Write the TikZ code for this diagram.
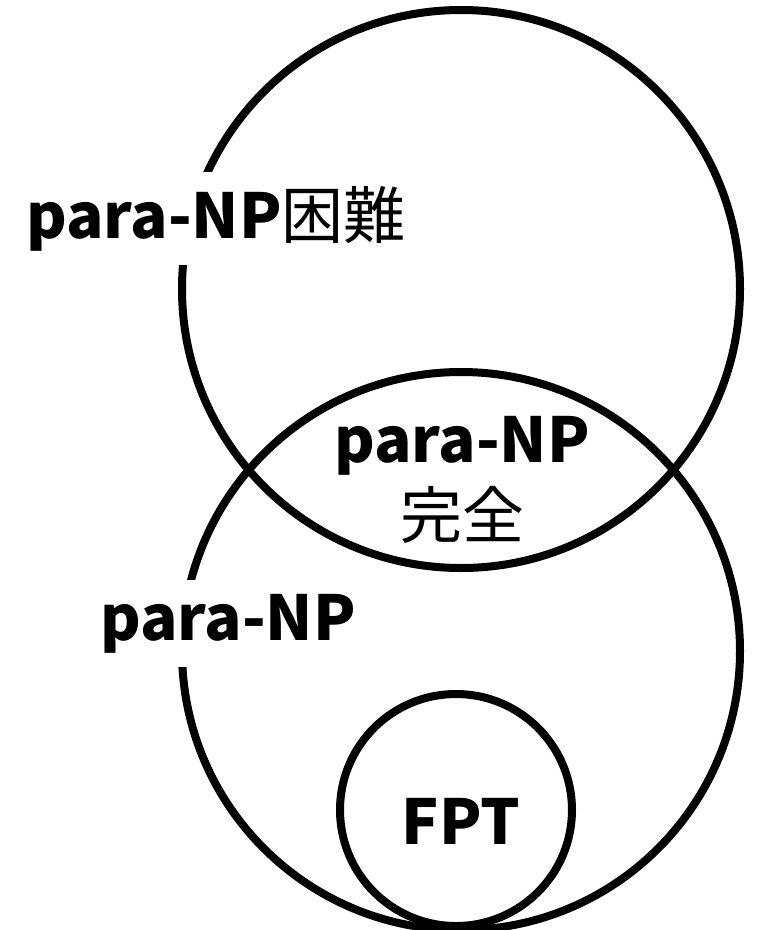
\documentclass[tikz,border=0pt]{standalone}
\usepackage{fontspec}
\setmainfont{Noto Sans CJK JP}
\usetikzlibrary{positioning}

\begin{document}
\begin{tikzpicture}[x=1pt,y=-1pt]
\tikzstyle{every path}=[line width=8pt]

\edef\sizebig{558pt}
\edef\sizesmall{232pt}
\tikzstyle{setcirc}=[draw,circle,inner sep=0pt,minimum size=\sizebig]
\tikzstyle{fptcirc}=[draw,circle,inner sep=0pt,minimum size=\sizesmall]
\tikzstyle{setlabel}=[font=\fontsize{62}{70}\selectfont,inner sep=0pt]
\tikzstyle{cutlabel}=[setlabel,fill=white,inner xsep=4pt,inner ysep=14pt]

\useasboundingbox (0,0) rectangle (757,930);

%% Draw the three classes
\node [setcirc] (hard) at (461,289) {};
\node [setcirc] (np) at (461,651) {};
\node [fptcirc] (fpt) at (456,810) {};

%% Labels on the circles
\node [cutlabel,anchor=base] (hardlabel) at (216,238) {\textbf{para-NP}困難};
\node [cutlabel,anchor=base] (nplabel) at (228,640) {\textbf{para-NP}};

%% Labels inside
\node [setlabel,anchor=base] (complabel) at (462,462) {\textbf{para-NP}};
\node [setlabel,below=20pt of complabel.base] (compjp) {完全};
\node [setlabel,anchor=base] (fptlabel) at (461,844) {\textbf{FPT}};
\end{tikzpicture}
\end{document}
